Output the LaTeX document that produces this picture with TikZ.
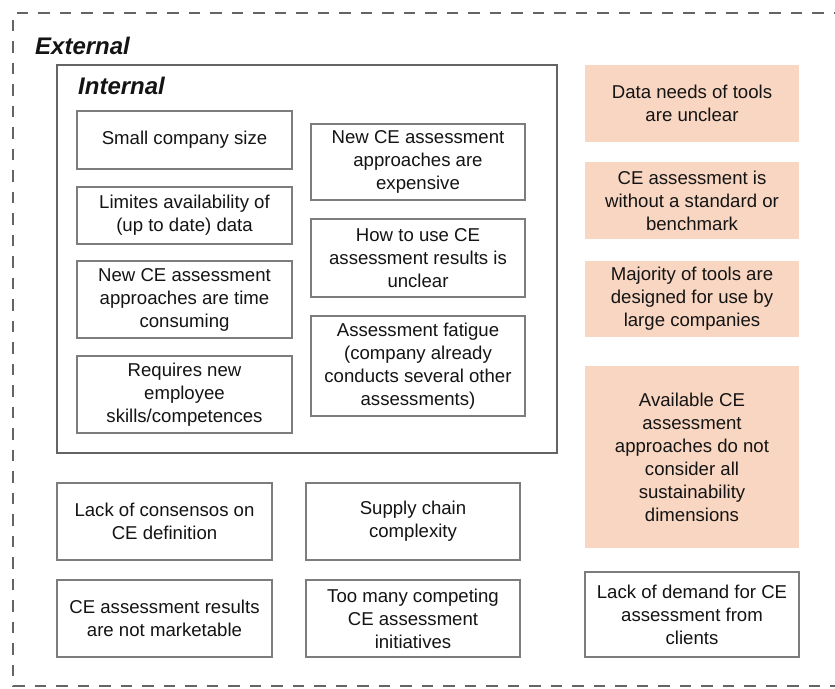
\documentclass[tikz,border=0pt]{standalone}
\usepackage{fontspec}
\setmainfont{Liberation Sans}
\definecolor{pinkfill}{RGB}{248,214,194}
\definecolor{boxline}{RGB}{125,125,125}
\definecolor{frameline}{RGB}{100,100,100}
\definecolor{txt}{RGB}{20,20,20}
\begin{document}
\begin{tikzpicture}[x=1pt,y=-1pt,
  every node/.style={font=\fontsize{18.6}{23}\selectfont, text=txt},
  box/.style={draw=boxline, line width=1.1pt, fill=white, align=center, inner sep=0pt},
  pinkbox/.style={fill=pinkfill, align=center, inner sep=0pt},
  bigtitle/.style={font=\fontsize{24}{28}\selectfont\bfseries\itshape, anchor=west, inner sep=0pt}
]
\useasboundingbox (0,0) rectangle (835,688);
% outer dashed frame
\draw[frameline, line width=2.4pt, dash pattern=on 11.5pt off 10pt]
  (845,13) -- (13,13) -- (13,686) -- (845,686);
\node[bigtitle] (ext) at (35,46) {External};
% internal frame
\draw[frameline, line width=2.4pt] (57,65) rectangle (557,453);
\node[bigtitle] (int) at (78,86) {Internal};

% internal left column
\node[box, minimum width=215pt, minimum height=58pt] (b1) at (184.5,140) {Small company size};
\node[box, minimum width=215pt, minimum height=57pt] (b2) at (184.5,215.5) {Limites availability of\\(up to date) data};
\node[box, minimum width=215pt, minimum height=77pt] (b3) at (184.5,299.5) {New CE assessment\\approaches are time\\consuming};
\node[box, minimum width=215pt, minimum height=77pt] (b4) at (184.5,394.5) {Requires new\\employee\\skills/competences};
% internal middle column
\node[box, minimum width=214pt, minimum height=76pt] (b5) at (418,162) {New CE assessment\\approaches are\\expensive};
\node[box, minimum width=214pt, minimum height=78pt] (b6) at (418,258) {How to use CE\\assessment results is\\unclear};
\node[box, minimum width=214pt, minimum height=100pt] (b7) at (418,366) {Assessment fatigue\\(company already\\conducts several other\\assessments)};

% right column
\node[pinkbox, minimum width=214pt, minimum height=77pt] (p1) at (692,103.5) {Data needs of tools\\are unclear};
\node[pinkbox, minimum width=214pt, minimum height=77pt] (p2) at (692,200.5) {CE assessment is\\without a standard or\\benchmark};
\node[pinkbox, minimum width=214pt, minimum height=76pt] (p3) at (692,299) {Majority of tools are\\designed for use by\\large companies};
\node[pinkbox, minimum width=214pt, minimum height=182pt] (p4) at (692,457) {Available CE\\assessment\\approaches do not\\consider all\\sustainability\\dimensions};
\node[box, minimum width=214pt, minimum height=85pt] (e5) at (692,614.5) {Lack of demand for CE\\assessment from\\clients};

% external bottom
\node[box, minimum width=215pt, minimum height=77pt] (e1) at (164.5,521.5) {Lack of consensos on\\CE definition};
\node[box, minimum width=215pt, minimum height=77pt] (e2) at (164.5,618.5) {CE assessment results\\are not marketable};
\node[box, minimum width=214pt, minimum height=77pt] (e3) at (413,521.5) {Supply chain\\complexity};
\node[box, minimum width=214pt, minimum height=77pt] (e4) at (413,618.5) {Too many competing\\CE assessment\\initiatives};
\end{tikzpicture}
\end{document}
